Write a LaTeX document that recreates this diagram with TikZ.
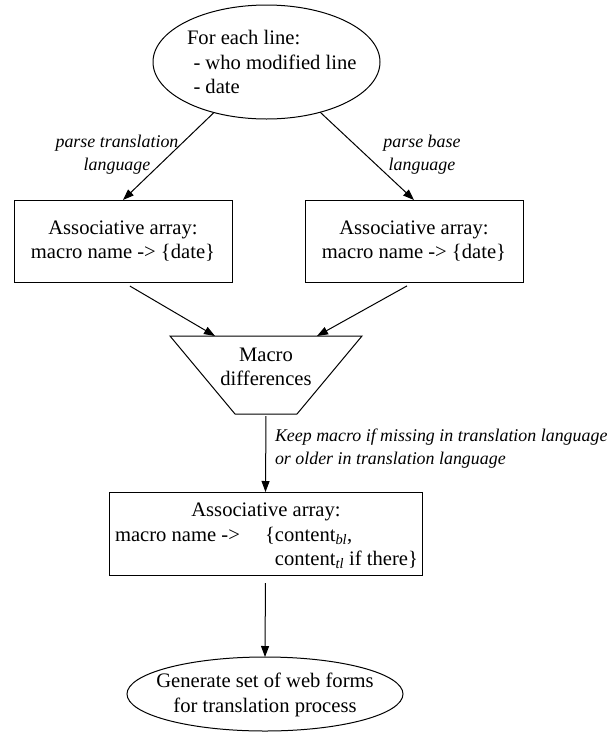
\documentclass[tikz,border=0pt]{standalone}
\usepackage{fontspec}
\setmainfont{Liberation Serif}
\usetikzlibrary{arrows.meta,shapes.geometric}
\begin{document}
\begin{tikzpicture}[x=1pt,y=-1pt,
  every node/.style={font=\fontsize{20.6}{24.5}\selectfont, inner sep=0pt, outer sep=0pt},
  lbl/.style={font=\fontsize{17.9}{23}\selectfont\itshape, align=center},
  ln/.style={line width=1pt},
  boxnode/.style={draw, ln, minimum width=218pt, minimum height=82pt, align=center},
  ellnode/.style={draw, ln, ellipse},
  arr/.style={ln, -{Triangle[length=11pt,width=8pt]}},
]
\path[use as bounding box] (0,0) rectangle (614,732);
% top ellipse
\node[ellnode, minimum width=227pt, minimum height=114pt] (top) at (266.5,62) {};
\node[align=left, anchor=west] (toptext) at (187,62) {For each line:\\\hspace*{6.5pt}- who modified line\\\hspace*{6.5pt}- date};
% two boxes
\node[boxnode] (lbox) at (123,241) {Associative array:\\macro name -> \{date\}};
\node[boxnode] (rbox) at (414,241) {Associative array:\\macro name -> \{date\}};
\draw[arr] (top) -- (lbox.north);
\draw[arr] (top) -- (rbox.north);
\node[lbl] (l1) at (117,155) {parse translation\\language};
\node[lbl] (l2) at (422,155) {parse base\\language};
% trapezoid
\coordinate (t1) at (170,336);
\coordinate (t2) at (362,336);
\coordinate (t3) at (297,414);
\coordinate (t4) at (235,414);
\draw[ln, line join=miter] (t1) -- (t2) -- (t3) -- (t4) -- cycle;
\node[align=center] (trap) at (266,367) {Macro\\differences};
\coordinate (tl) at (215,336);
\coordinate (tr) at (317,336);
\coordinate (tb) at (266,414);
\draw[arr, shorten <=8pt] (lbox.south) -- (tl);
\draw[arr, shorten <=8pt] (rbox.south) -- (tr);
% third box
\node[draw, ln, minimum width=313pt, minimum height=83pt] (box3) at (265.5,533.5) {};
\draw[arr, shorten <=2pt] (tb) -- (box3.north);
\node[lbl, align=left, anchor=west] (keep) at (275,448.5) {Keep macro if missing in translation language\\or older in translation language};
\node[anchor=base] (b3a) at (266,516.5) {Associative array:};
\node[anchor=base west] (b3b) at (115,541.5) {macro name ->};
\node[anchor=base west] (b3c) at (265,541.5) {\{content\textsubscript{\itshape bl},};
\node[anchor=base west] (b3d) at (265,565.5) {\phantom{\{}content\textsubscript{\itshape tl} if there\}};
% bottom ellipse
\node[ellnode, minimum width=276pt, minimum height=74pt] (bot) at (265,694) {};
\node[align=center] (bottext) at (265,695) {Generate set of web forms\\for translation process};
\draw[arr, shorten <=8pt] (box3.south) -- (bot.north);
\end{tikzpicture}
\end{document}
